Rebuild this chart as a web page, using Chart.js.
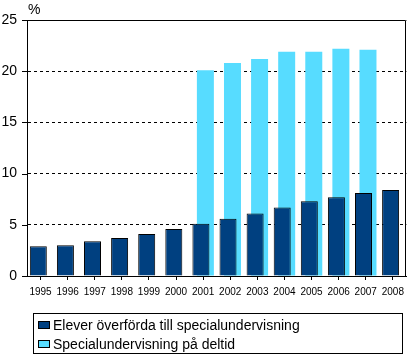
<!DOCTYPE html>
<html>
<head>
<meta charset="utf-8">
<script src="https://cdn.jsdelivr.net/npm/chart.js@4.4.1/dist/chart.umd.min.js"></script>
<style>
  html, body { margin: 0; padding: 0; background: #fff; }
  #wrap { position: relative; width: 410px; height: 356px; }
  #legend {
    position: absolute; left: 33px; top: 313px; width: 370px; height: 41px;
    border: 1px solid #000; box-sizing: border-box;
    font: 14px "Liberation Sans", Arial, sans-serif; color: #000;
  }
  .rad { position: absolute; left: 4px; height: 18px; line-height: 18px; white-space: nowrap; }
  .ruta { display: inline-block; width: 10px; height: 6px; border: 1px solid #000; margin-right: 3px; vertical-align: 1px; }
</style>
</head>
<body>
<div id="wrap">
  <canvas id="diagram" width="410" height="356"></canvas>
  <div id="legend">
    <div class="rad" style="top:2px"><span class="ruta" style="background:#004080"></span>Elever överförda till specialundervisning</div>
    <div class="rad" style="top:21px"><span class="ruta" style="background:#57dcff"></span>Specialundervisning på deltid</div>
  </div>
</div>
<script>
// --- Data ---
const aar = ['1995', '1996', '1997', '1998', '1999', '2000', '2001', '2002', '2003', '2004', '2005', '2006', '2007', '2008'];
const overforda = [2.9, 3.0, 3.4, 3.7, 4.1, 4.6, 5.1, 5.6, 6.1, 6.7, 7.3, 7.7, 8.1, 8.4];
const deltid = [null, null, null, null, null, null, 20.1, 20.8, 21.2, 21.9, 21.9, 22.2, 22.1, null];
const yMax = 25;
const ySteg = 5;

// ram runt ritytan, tickar på y-axeln och "%" överst
const ramPlugin = {
  id: 'ram',
  afterDraw(chart) {
    const { ctx, chartArea } = chart;
    const y = chart.scales.y;
    ctx.save();
    ctx.strokeStyle = '#000';
    ctx.lineWidth = 1;
    ctx.beginPath();
    ctx.moveTo(chartArea.left, Math.round(chartArea.top) + 0.5);
    ctx.lineTo(Math.round(chartArea.right) - 0.5, Math.round(chartArea.top) + 0.5);
    ctx.lineTo(Math.round(chartArea.right) - 0.5, chartArea.bottom);
    ctx.stroke();
    y.ticks.forEach(t => {
      const py = Math.round(y.getPixelForValue(t.value)) + 0.5;
      ctx.beginPath();
      ctx.moveTo(chartArea.left - 5, py);
      ctx.lineTo(chartArea.left, py);
      ctx.stroke();
    });
    ctx.fillStyle = '#000';
    ctx.font = '14px "Liberation Sans", Arial, sans-serif';
    ctx.textBaseline = 'middle';
    ctx.fillText('%', chartArea.left + 1, 10);
    ctx.restore();
  }
};

new Chart(document.getElementById('diagram'), {
  type: 'bar',
  data: {
    labels: aar,
    datasets: [
      {
        label: 'Elever överförda till specialundervisning',
        data: overforda,
        backgroundColor: '#004080',
        borderColor: '#000',
        borderWidth: 1
      },
      {
        label: 'Specialundervisning på deltid',
        data: deltid,
        backgroundColor: '#57dcff',
        borderWidth: 0
      }
    ]
  },
  options: {
    responsive: false,
    animation: false,
    devicePixelRatio: 1,
    categoryPercentage: 0.33,
    barPercentage: 3.8,
    layout: { padding: { top: 20, right: 1, left: 0, bottom: 0 } },
    plugins: {
      legend: { display: false },
      tooltip: { enabled: false }
    },
    scales: {
      x: {
        grid: { offset: false, drawOnChartArea: false, drawTicks: true, tickLength: 4, color: '#000' },
        border: { color: '#000' },
        ticks: {
          color: '#000',
          font: { family: '"Liberation Sans Narrow", "Liberation Sans", Arial', size: 10 },
          padding: 6,
          maxRotation: 0,
          autoSkip: false
        },
        afterFit: s => { s.height = 80; }
      },
      y: {
        min: 0,
        max: yMax,
        ticks: {
          stepSize: ySteg,
          color: '#000',
          font: { family: '"Liberation Sans", Arial', size: 14 },
          padding: 10
        },
        grid: { drawTicks: false, color: '#000' },
        border: { color: '#000', dash: [3, 3] },
        afterFit: s => { s.width = 27; }
      }
    }
  },
  plugins: [ramPlugin]
});
</script>
</body>
</html>
